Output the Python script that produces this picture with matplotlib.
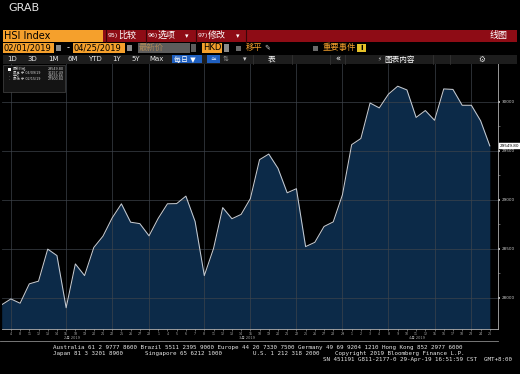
import matplotlib
matplotlib.use('Agg')
import matplotlib.pyplot as plt
from matplotlib.patches import Rectangle
import matplotlib.transforms as mtransforms
import numpy as np

plt.rcParams['font.family'] = ['DejaVu Sans', 'Noto Sans CJK SC']

# ---------------- data ----------------
day_labels = ['1', '4', '8', '11', '12', '13', '14', '15', '18', '19', '20', '21', '22', '25', '26', '27', '28',
              '1', '4', '5', '6', '7', '8', '11', '12', '13', '14', '15', '18', '19', '20', '21', '22', '25', '26',
              '27', '28', '29',
              '1', '2', '3', '4', '8', '9', '10', '11', '12', '15', '16', '17', '18', '23', '24', '25']
hsi_close = [27930.74, 27990.21, 27946.32, 28143.84, 28171.33, 28497.59, 28432.05, 27900.84, 28347.01,
             28228.13, 28514.05, 28629.91, 28816.30, 28959.30, 28772.06, 28757.39, 28633.18,
             28812.17, 28959.59, 28961.60, 29037.63, 28779.45, 28228.42, 28503.30, 28920.85, 28807.45,
             28851.39, 29012.26, 29409.01, 29466.28, 29320.97, 29071.56, 29113.36, 28523.35, 28566.91,
             28728.25, 28775.21, 29051.36,
             29562.02, 29624.67, 29986.39, 29936.32, 30077.15, 30157.49, 30119.64, 29839.45, 29909.76,
             29810.40, 30129.87, 30124.68, 29963.26, 29963.24, 29805.83, 29549.80]
month_labels = ['2月 2019', '3月 2019', '4月 2019']
month_label_pos = [7.6, 26.6, 45.1]
y_ticks = [28000, 28500, 29000, 29500, 30000]
y_minor = [28250, 28750, 29250, 29750]
vgrid_idx = [1, 7, 12, 16, 22, 27, 32, 37, 42, 47, 51]
legend_rows = [('最新价格', '29549.80'), ('最高 于 04/09/19', '30157.49'),
               ('平均', '29039.66'), ('最低 于 02/15/19', '27900.84')]

W, H = 520, 374
fig = plt.figure(figsize=(5.2, 3.74), dpi=100, facecolor='black')


def fx(px):
    return px / W


def fy(py):
    return 1 - py / H


# ---------------- main chart ----------------
ax = fig.add_axes([fx(1.5), fy(329), fx(498) - fx(1.5), fy(63) - fy(329)])
ax.set_facecolor('black')
x = np.arange(len(hsi_close))
ymin, ymax = 27684, 30394
ax.fill_between(x, hsi_close, ymin, color='#0c2a48', lw=0, zorder=1)
ax.plot(x, hsi_close, color='#c4cad2', lw=0.75, zorder=3)
ax.set_xlim(-0.02, 53.89)
ax.set_ylim(ymin, ymax)

for t in y_ticks:
    ax.axhline(t, color='#3e444c', lw=0.6, alpha=0.8, zorder=2)
for i in vgrid_idx:
    ax.axvline(i, color='#3e444c', lw=0.6, alpha=0.8, zorder=2)

for s in ['top', 'left']:
    ax.spines[s].set_visible(False)
ax.spines['right'].set_color('#b0b0b0')
ax.spines['right'].set_linewidth(0.6)
ax.spines['bottom'].set_color('#b0b0b0')
ax.spines['bottom'].set_linewidth(0.6)

ax.yaxis.tick_right()
ax.set_yticks(y_ticks)
ax.set_yticklabels([str(t) for t in y_ticks])
ax.set_yticks(y_minor, minor=True)
ax.tick_params(axis='y', which='major', colors='#d0d0d0', labelsize=3, length=1.5, width=1.2, pad=1.5)
ax.tick_params(axis='y', which='minor', colors='#808080', length=1.2, width=0.5)

ax.set_xticks(x[1:])
ax.set_xticklabels(day_labels[1:])
ax.tick_params(axis='x', colors='#aaaaaa', labelsize=2.3, length=1.5, width=0.4, pad=1)

trans = mtransforms.blended_transform_factory(ax.transData, ax.transAxes)
for lab, pos in zip(month_labels, month_label_pos):
    ax.text(pos, -0.028, lab, transform=trans, fontsize=2.5, color='#aaaaaa', ha='center', va='top')

ax.annotate(f'{hsi_close[-1]:.2f}', xy=(1.004, hsi_close[-1]), xycoords=('axes fraction', 'data'),
            fontsize=3, color='black', ha='left', va='center', annotation_clip=False,
            bbox=dict(boxstyle='square,pad=0.25', fc='white', ec='white', lw=0.3))

# ---------------- overlay (terminal chrome) ----------------
ov = fig.add_axes([0, 0, 1, 1])
ov.set_xlim(0, W)
ov.set_ylim(H, 0)
ov.axis('off')
ov.patch.set_alpha(0)


def rect(x0, y0, x1, y1, color, ec='none', lw=0):
    ov.add_patch(Rectangle((x0, y0), x1 - x0, y1 - y0, facecolor=color, edgecolor=ec, lw=lw))


def txt(px, py, s, fs, color='white', ha='left', **kw):
    ov.text(px, py, s, fontsize=fs, color=color, ha=ha, va='center', **kw)


ORANGE = '#f5a02c'
RED = '#8e0c15'

txt(8, 7.5, 'GRAB', 8, '#e4e4e4')

# Row 1
rect(3, 29.5, 103, 41.5, ORANGE)
txt(4.5, 35.7, 'HSI Index', 7, 'black')
rect(103, 29.5, 517, 41.5, RED)
for sx in [106, 145.5, 195.5, 245.5]:
    ov.plot([sx, sx], [29.5, 41.5], color='#3a0508', lw=0.8)
txt(108, 35.7, '95)', 4.5)
txt(118, 35.5, '比较', 6.5)
txt(148, 35.7, '96)', 4.5)
txt(158, 35.5, '选项', 6.5)
txt(185, 35.7, '▾', 5)
txt(198, 35.7, '97)', 4.5)
txt(208, 35.5, '修改', 6.5)
txt(236, 35.7, '▾', 5)
txt(490, 35.5, '线图', 6.5)

# Row 2
rect(3, 42.5, 54, 53, ORANGE)
txt(4, 47.9, '02/01/2019', 6, 'black')
rect(55.5, 45, 61, 51, '#8a8a8a')
txt(67, 47.9, '-', 6)
rect(73, 42.5, 125, 53, ORANGE)
txt(74, 47.9, '04/25/2019', 6, 'black')
rect(126.5, 45, 132, 51, '#8a8a8a')
rect(138, 42.5, 190, 53, '#5c5c5c')
txt(139, 47.8, '最新价', 6, '#b08a58')
rect(191, 44, 196, 52, '#5c5c5c')
rect(202, 42.5, 222, 53, ORANGE)
txt(203, 47.9, 'HKD', 6, 'black')
rect(223.5, 44, 229, 52, '#8a8a8a')
rect(236, 45.5, 241, 50.5, '#6a6a6a')
txt(246, 47.8, '移平', 6, ORANGE)
txt(264, 47.8, '✎', 5, '#cccccc')
rect(313, 45.5, 318, 50.5, '#6a6a6a')
txt(323, 47.8, '重要事件', 6, ORANGE)
rect(357, 43.5, 366, 52, '#e6c229')
txt(361.5, 47.9, 'i', 5.5, 'black', ha='center', fontweight='bold')

# Row 3
rect(3, 54.5, 517, 63.5, '#1d1d1d')
for sx in [253, 292, 330, 345, 433, 450]:
    ov.plot([sx, sx], [54.5, 63.5], color='#333333', lw=0.6)
for lab, cx in [('1D', 12), ('3D', 32), ('1M', 53), ('6M', 73), ('YTD', 95), ('1Y', 117), ('5Y', 136),
                ('Max', 157)]:
    txt(cx, 59.2, lab, 5, '#e8e8e8', ha='center')
rect(172, 55, 202, 63, '#1f5fbf')
txt(174, 59.2, '每日 ▼', 5)
rect(207, 55, 220, 63, '#1f5fbf')
txt(213.5, 59.2, '≃', 5, ha='center')
txt(226, 59.2, '⇅', 5, '#999999', ha='center')
txt(245, 59.2, '▾', 5, '#cccccc', ha='center')
txt(272, 59.2, '表', 5.5, ha='center')
txt(338, 59.2, '«', 6, ha='center')
txt(379, 59.2, '⚡', 4, '#cccccc', ha='center')
txt(384, 59.2, '图表内容', 5.5)
txt(482, 59.2, '⚙', 5.5, '#dddddd', ha='center')

# Legend box
rect(3, 65, 65, 92, '#141414', ec='#555555', lw=0.4)
rect(8, 67.9, 11, 70.7, 'white')
for k, (lab, val) in enumerate(legend_rows):
    yy = 69.3 + k * 3.35
    if k > 0:
        txt(8.5, yy, '-', 2.5, '#bbbbbb')
    txt(13, yy, lab, 2.4, '#cfcfcf')
    txt(63.5, yy, val, 2.4, '#cfcfcf', ha='right')

# separator under axis
ov.plot([0, 498], [341, 341], color='#8a8a8a', lw=0.6)

# Footer
MONO = 'DejaVu Sans Mono'
ov.text(53, 347, 'Australia 61 2 9777 8600 Brazil 5511 2395 9000 Europe 44 20 7330 7500 '
                 'Germany 49 69 9204 1210 Hong Kong 852 2977 6000',
        fontsize=4.2, family=MONO, color='#e6e6e6', va='center')
ov.text(53, 353.5, 'Japan 81 3 3201 8900', fontsize=4.2, family=MONO, color='#e6e6e6', va='center')
ov.text(145, 353.5, 'Singapore 65 6212 1000', fontsize=4.2, family=MONO, color='#e6e6e6', va='center')
ov.text(253, 353.5, 'U.S. 1 212 318 2000', fontsize=4.2, family=MONO, color='#e6e6e6', va='center')
ov.text(335, 353.5, 'Copyright 2019 Bloomberg Finance L.P.', fontsize=4.2, family=MONO, color='#e6e6e6',
        va='center')
ov.text(323, 360, 'SN 451191 G811-2177-0 29-Apr-19 16:51:59 CST  GMT+8:00', fontsize=4.2, family=MONO,
        color='#e6e6e6', va='center')

fig.savefig('out.png', dpi=100, facecolor='black')
